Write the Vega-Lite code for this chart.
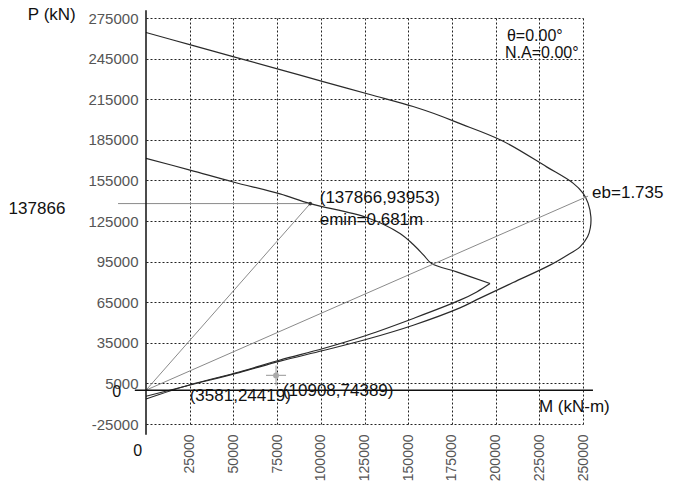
{
  "$schema": "https://vega.github.io/schema/vega-lite/v6.json",
  "width": 437,
  "height": 406,
  "autosize": {"type": "none"},
  "padding": {"left": 146, "top": 18, "right": 90, "bottom": 63},
  "background": "white",
  "config": {"view": {"stroke": null}, "font": "Liberation Sans"},
  "layer": [
    {
      "data": {"values": [
        {"s": "outer", "i": 0, "M": 0, "P": 264300},
        {"s": "outer", "i": 1, "M": 25000, "P": 255350},
        {"s": "outer", "i": 2, "M": 51300, "P": 245930},
        {"s": "outer", "i": 3, "M": 76700, "P": 236840},
        {"s": "outer", "i": 4, "M": 101300, "P": 228030},
        {"s": "outer", "i": 5, "M": 128100, "P": 218440},
        {"s": "outer", "i": 6, "M": 152800, "P": 209600},
        {"s": "outer", "i": 7, "M": 168200, "P": 202800},
        {"s": "outer", "i": 8, "M": 178600, "P": 197500},
        {"s": "outer", "i": 9, "M": 203500, "P": 184500},
        {"s": "outer", "i": 10, "M": 229200, "P": 165000},
        {"s": "outer", "i": 11, "M": 244300, "P": 153000},
        {"s": "outer", "i": 12, "M": 250000, "P": 145600},
        {"s": "outer", "i": 13, "M": 252900, "P": 138200},
        {"s": "outer", "i": 14, "M": 254500, "P": 128100},
        {"s": "outer", "i": 15, "M": 254200, "P": 120000},
        {"s": "outer", "i": 16, "M": 252600, "P": 113300},
        {"s": "outer", "i": 17, "M": 248300, "P": 105900},
        {"s": "outer", "i": 18, "M": 240000, "P": 99000},
        {"s": "outer", "i": 19, "M": 231100, "P": 92400},
        {"s": "outer", "i": 20, "M": 210000, "P": 79500},
        {"s": "outer", "i": 21, "M": 191100, "P": 68000},
        {"s": "outer", "i": 22, "M": 179600, "P": 60800},
        {"s": "outer", "i": 23, "M": 152900, "P": 48000},
        {"s": "outer", "i": 24, "M": 126300, "P": 37600},
        {"s": "outer", "i": 25, "M": 101400, "P": 29300},
        {"s": "outer", "i": 26, "M": 76700, "P": 21400},
        {"s": "outer", "i": 27, "M": 53800, "P": 13200},
        {"s": "outer", "i": 28, "M": 25200, "P": 3800},
        {"s": "outer", "i": 29, "M": 0, "P": -4500},
        {"s": "innerA", "i": 0, "M": 0, "P": 171300},
        {"s": "innerA", "i": 1, "M": 25200, "P": 162600},
        {"s": "innerA", "i": 2, "M": 49900, "P": 153800},
        {"s": "innerA", "i": 3, "M": 76700, "P": 145000},
        {"s": "innerA", "i": 4, "M": 93953, "P": 137866},
        {"s": "innerA", "i": 5, "M": 126300, "P": 127600},
        {"s": "innerA", "i": 6, "M": 145300, "P": 115800},
        {"s": "innerA", "i": 7, "M": 152900, "P": 107600},
        {"s": "innerA", "i": 8, "M": 158700, "P": 100000},
        {"s": "innerA", "i": 9, "M": 163400, "P": 93600},
        {"s": "innerA", "i": 10, "M": 177700, "P": 87400},
        {"s": "innerA", "i": 11, "M": 196800, "P": 78800},
        {"s": "innerB", "i": 0, "M": 196800, "P": 78800},
        {"s": "innerB", "i": 1, "M": 189200, "P": 72600},
        {"s": "innerB", "i": 2, "M": 179600, "P": 66500},
        {"s": "innerB", "i": 3, "M": 152900, "P": 53000},
        {"s": "innerB", "i": 4, "M": 126300, "P": 40600},
        {"s": "innerB", "i": 5, "M": 101400, "P": 30800},
        {"s": "innerB", "i": 6, "M": 76700, "P": 22300},
        {"s": "innerB", "i": 7, "M": 53800, "P": 13600},
        {"s": "innerB", "i": 8, "M": 25200, "P": 4000},
        {"s": "innerB", "i": 9, "M": 0, "P": -6500}
      ]},
      "mark": {"type": "line", "color": "#2a2a2a", "strokeWidth": 1.2, "interpolate": "catmull-rom"},
      "encoding": {
        "x": {"field": "M", "type": "quantitative",
          "scale": {"domain": [0, 250000], "zero": false, "nice": false},
          "axis": {"title": null, "orient": "bottom",
            "values": [25000, 50000, 75000, 100000, 125000, 150000, 175000, 200000, 225000, 250000],
            "labelExpr": "'' + datum.value",
            "labelAngle": -90, "labelFontSize": 14, "labelColor": "#555", "labelPadding": 10, "labelDy": -6,
            "labelFont": "Liberation Sans", "labelFlush": false, "labelOverlap": false,
            "grid": true, "gridDash": [2, 2], "gridColor": "#222", "gridOpacity": 1, "gridWidth": 1,
            "domain": false, "ticks": false}},
        "y": {"field": "P", "type": "quantitative",
          "scale": {"domain": [-25000, 275000], "zero": false, "nice": false},
          "axis": {"title": null,
            "values": [-25000, 5000, 35000, 65000, 95000, 125000, 155000, 185000, 215000, 245000, 275000],
            "labelExpr": "'' + datum.value",
            "labelFontSize": 15, "labelColor": "#555", "labelPadding": 8, "labelBaseline": "middle",
            "labelFont": "Liberation Sans", "labelFlush": false, "labelOverlap": false,
            "grid": true, "gridDash": [2, 2], "gridColor": "#222", "gridOpacity": 1, "gridWidth": 1,
            "domain": false, "ticks": false}},
        "detail": {"field": "s"},
        "order": {"field": "i", "type": "quantitative"}
      }
    },
    {
      "data": {"values": [
        {"M": -16000, "P": 137866, "M2": 93953, "P2": 137866},
        {"M": 0, "P": 0, "M2": 93953, "P2": 137866},
        {"M": 0, "P": 0, "M2": 252900, "P2": 143400}
      ]},
      "mark": {"type": "rule", "color": "#8a8a8a", "strokeWidth": 1},
      "encoding": {
        "x": {"field": "M", "type": "quantitative", "scale": {"domain": [0, 250000], "zero": false, "nice": false}},
        "y": {"field": "P", "type": "quantitative", "scale": {"domain": [-25000, 275000], "zero": false, "nice": false}},
        "x2": {"field": "M2"},
        "y2": {"field": "P2"}
      }
    },
    {
      "data": {"values": [
        {"M": 0, "P": -33000, "M2": 0, "P2": 280800},
        {"M": -6400, "P": 0, "M2": 255700, "P2": 0}
      ]},
      "mark": {"type": "rule", "color": "#111", "strokeWidth": 1.5},
      "encoding": {
        "x": {"field": "M", "type": "quantitative", "scale": {"domain": [0, 250000], "zero": false, "nice": false}},
        "y": {"field": "P", "type": "quantitative", "scale": {"domain": [-25000, 275000], "zero": false, "nice": false}},
        "x2": {"field": "M2"},
        "y2": {"field": "P2"}
      }
    },
    {
      "data": {"values": [{"M": 93953, "P": 137866}]},
      "mark": {"type": "point", "filled": true, "color": "#333", "size": 14, "opacity": 1},
      "encoding": {
        "x": {"field": "M", "type": "quantitative", "scale": {"domain": [0, 250000], "zero": false, "nice": false}},
        "y": {"field": "P", "type": "quantitative", "scale": {"domain": [-25000, 275000], "zero": false, "nice": false}}
      }
    },
    {
      "data": {"values": [{"M": 74389, "P": 10908}]},
      "layer": [
        {"mark": {"type": "point", "shape": "M-1,0L1,0M0,-1L0,1", "filled": false, "color": "#aaa", "strokeWidth": 1.2, "size": 400, "opacity": 1}},
        {"mark": {"type": "point", "shape": "circle", "filled": true, "color": "#aaa", "size": 35, "opacity": 1}}
      ],
      "encoding": {
        "x": {"field": "M", "type": "quantitative", "scale": {"domain": [0, 250000], "zero": false, "nice": false}},
        "y": {"field": "P", "type": "quantitative", "scale": {"domain": [-25000, 275000], "zero": false, "nice": false}}
      }
    },
    {
      "data": {"values": [
        {"M": 99400, "P": 141900, "t": "(137866,93953)"},
        {"M": 99400, "P": 125600, "t": "emin=0.681m"},
        {"M": 255200, "P": 145600, "t": "eb=1.735"},
        {"M": 25000, "P": -4400, "t": "(3581,24419)"},
        {"M": 78300, "P": -700, "t": "(10908,74389)"},
        {"M": 224800, "P": -12600, "t": "M (kN-m)"},
        {"M": -78600, "P": 133700, "t": "137866"}
      ]},
      "mark": {"type": "text", "align": "left", "baseline": "middle", "fontSize": 17, "color": "#111", "font": "Liberation Sans"},
      "encoding": {
        "x": {"field": "M", "type": "quantitative", "scale": {"domain": [0, 250000], "zero": false, "nice": false}},
        "y": {"field": "P", "type": "quantitative", "scale": {"domain": [-25000, 275000], "zero": false, "nice": false}},
        "text": {"field": "t"}
      }
    },
    {
      "data": {"values": [
        {"M": 206500, "P": 262000, "t": "θ=0.00°"},
        {"M": 205400, "P": 249000, "t": "N.A=0.00°"}
      ]},
      "mark": {"type": "text", "align": "left", "baseline": "middle", "fontSize": 16, "color": "#111", "font": "Liberation Sans"},
      "encoding": {
        "x": {"field": "M", "type": "quantitative", "scale": {"domain": [0, 250000], "zero": false, "nice": false}},
        "y": {"field": "P", "type": "quantitative", "scale": {"domain": [-25000, 275000], "zero": false, "nice": false}},
        "text": {"field": "t"}
      }
    },
    {
      "data": {"values": [{"M": -40200, "P": 277100, "t": "P (kN)"}]},
      "mark": {"type": "text", "align": "right", "baseline": "middle", "fontSize": 17, "color": "#111", "font": "Liberation Sans"},
      "encoding": {
        "x": {"field": "M", "type": "quantitative", "scale": {"domain": [0, 250000], "zero": false, "nice": false}},
        "y": {"field": "P", "type": "quantitative", "scale": {"domain": [-25000, 275000], "zero": false, "nice": false}},
        "text": {"field": "t"}
      }
    },
    {
      "data": {"values": [
        {"M": -4700, "P": -45000, "t": "0"},
        {"M": -16800, "P": -1500, "t": "0"}
      ]},
      "mark": {"type": "text", "align": "center", "baseline": "middle", "fontSize": 16, "color": "#111", "font": "Liberation Sans"},
      "encoding": {
        "x": {"field": "M", "type": "quantitative", "scale": {"domain": [0, 250000], "zero": false, "nice": false}},
        "y": {"field": "P", "type": "quantitative", "scale": {"domain": [-25000, 275000], "zero": false, "nice": false}},
        "text": {"field": "t"}
      }
    }
  ]
}
